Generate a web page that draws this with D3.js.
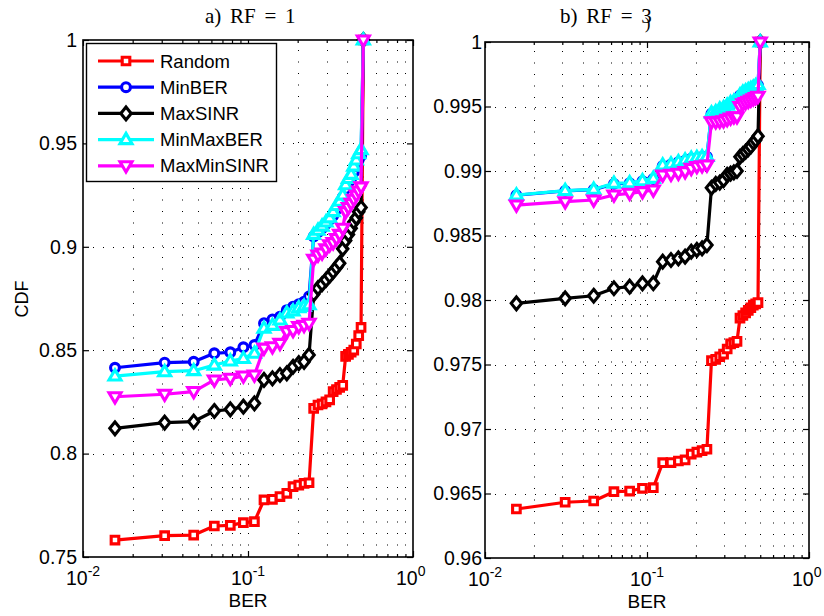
<!DOCTYPE html>
<html>
<head>
<meta charset="utf-8">
<script src="https://cdn.jsdelivr.net/npm/d3@7"></script>
<style>
  body { margin: 0; background: #fff; }
  text { font-family: Arial, "Liberation Sans", Helvetica, sans-serif; }
</style>
</head>
<body>
<div id="chart"></div>
<script>
// BER values (k/64) shared by every curve
var ber = [0.015625, 0.03125, 0.046875, 0.0625, 0.078125, 0.09375, 0.109375, 0.125,
  0.140625, 0.15625, 0.171875, 0.1875, 0.203125, 0.21875, 0.234375, 0.25,
  0.265625, 0.28125, 0.296875, 0.3125, 0.328125, 0.34375, 0.359375, 0.375,
  0.390625, 0.40625, 0.421875, 0.4375, 0.453125, 0.46875, 0.484375, 0.5];

var names = ["Random", "MinBER", "MaxSINR", "MinMaxBER", "MaxMinSINR"];

// a) RF = 1
var randomA = [0.7582, 0.7603, 0.7606, 0.7650, 0.7653, 0.7666, 0.7671, 0.7776, 0.7779, 0.7792, 0.7808, 0.7840, 0.7848, 0.7856, 0.7859,
  0.8219, 0.8235, 0.8240, 0.8250, 0.8260, 0.8300, 0.8310, 0.8320, 0.8330, 0.8470, 0.8480, 0.8490, 0.8500, 0.8530, 0.8570, 0.8610, 1.0];
var minBerA = [0.8415, 0.8440, 0.8444, 0.8485, 0.8490, 0.8514, 0.8525, 0.8630, 0.8649, 0.8662, 0.8694, 0.8710, 0.8723, 0.8734, 0.8760,
  0.9050, 0.9070, 0.9090, 0.9110, 0.9130, 0.9150, 0.9180, 0.9210, 0.9240, 0.9280, 0.9310, 0.9330, 0.9360, 0.9390, 0.9420, 0.9440, 1.0];
var maxSinrA = [0.8122, 0.8150, 0.8155, 0.8206, 0.8214, 0.8227, 0.8243, 0.8356, 0.8364, 0.8380, 0.8388, 0.8420, 0.8437, 0.8444, 0.8477,
  0.8770, 0.8800, 0.8820, 0.8840, 0.8860, 0.8880, 0.8900, 0.8920, 0.8990, 0.9030, 0.9060, 0.9090, 0.9120, 0.9140, 0.9170, 0.9190, 1.0];
var minMaxBerA = [0.8375, 0.8396, 0.8401, 0.8428, 0.8448, 0.8460, 0.8485, 0.8606, 0.8620, 0.8646, 0.8680, 0.8690, 0.8705, 0.8712, 0.8720,
  0.9060, 0.9080, 0.9100, 0.9120, 0.9140, 0.9170, 0.9200, 0.9220, 0.9250, 0.9300, 0.9330, 0.9350, 0.9390, 0.9420, 0.9450, 0.9470, 1.0];
var maxMinSinrA = [0.8275, 0.8287, 0.8300, 0.8356, 0.8364, 0.8375, 0.8380, 0.8510, 0.8517, 0.8533, 0.8590, 0.8595, 0.8614, 0.8620, 0.8630,
  0.8940, 0.8960, 0.8970, 0.8990, 0.9010, 0.9020, 0.9040, 0.9060, 0.9090, 0.9170, 0.9190, 0.9210, 0.9230, 0.9250, 0.9270, 0.9290, 1.0];

// b) RF = 3
var randomB = [0.96380, 0.96432, 0.96442, 0.96514, 0.96519, 0.96540, 0.96545, 0.96739, 0.96740, 0.96752, 0.96760, 0.96806, 0.96820, 0.96832, 0.96843,
  0.97530, 0.97540, 0.97560, 0.97580, 0.97620, 0.97660, 0.97670, 0.97680, 0.97860, 0.97880, 0.97900, 0.97920, 0.97940, 0.97960, 0.97970, 0.97980, 1.0];
var minBerB = [0.98812, 0.98846, 0.98855, 0.98900, 0.98905, 0.98920, 0.98938, 0.99040, 0.99050, 0.99068, 0.99080, 0.99095, 0.99100, 0.99108, 0.99110,
  0.99445, 0.99455, 0.99470, 0.99485, 0.99505, 0.99520, 0.99530, 0.99545, 0.99585, 0.99600, 0.99612, 0.99625, 0.99635, 0.99645, 0.99655, 0.99665, 1.0];
var maxSinrB = [0.97974, 0.98013, 0.98033, 0.98091, 0.98103, 0.98129, 0.98130, 0.98297, 0.98310, 0.98323, 0.98336, 0.98375, 0.98388, 0.98400, 0.98426,
  0.98870, 0.98900, 0.98910, 0.98930, 0.98970, 0.98980, 0.98990, 0.99000, 0.99110, 0.99130, 0.99150, 0.99170, 0.99190, 0.99220, 0.99240, 0.99270, 1.0];
var minMaxBerB = [0.98814, 0.98848, 0.98858, 0.98905, 0.98909, 0.98925, 0.98943, 0.99047, 0.99055, 0.99072, 0.99085, 0.99098, 0.99105, 0.99110, 0.99112,
  0.99450, 0.99460, 0.99480, 0.99490, 0.99510, 0.99530, 0.99540, 0.99550, 0.99590, 0.99610, 0.99620, 0.99630, 0.99640, 0.99650, 0.99660, 0.99670, 1.0];
var maxMinSinrB = [0.98736, 0.98762, 0.98775, 0.98814, 0.98827, 0.98840, 0.98853, 0.98969, 0.98975, 0.98982, 0.98995, 0.99020, 0.99034, 0.99040, 0.99047,
  0.99382, 0.99382, 0.99385, 0.99390, 0.99400, 0.99410, 0.99420, 0.99421, 0.99500, 0.99520, 0.99530, 0.99540, 0.99550, 0.99560, 0.99570, 0.99580, 1.0];

var yTicksA = [0.75, 0.8, 0.85, 0.9, 0.95, 1];
var yTicksB = [0.96, 0.965, 0.97, 0.975, 0.98, 0.985, 0.99, 0.995, 1];
var xMajor = [0.01, 0.1, 1];
var xExp = ["-2", "-1", "0"];

var colors = ["#ff0000", "#0000ff", "#000000", "#00ffff", "#ff00ff"];
var markers = ["square", "circle", "diamond", "up", "down"];

var width = 824, height = 616;
var serif = "font-family:'Liberation Serif','DejaVu Serif',serif";

var svg = d3.select("#chart").append("svg")
  .attr("width", width)
  .attr("height", height);

// marker shapes
function markerPath(type) {
  if (type == "square") return "M-3.8,-3.8h7.6v7.6h-7.6Z";
  if (type == "diamond") return "M0,-6.4L5.2,0L0,6.4L-5.2,0Z";
  if (type == "up") return "M0,-6.2L6,4L-6,4Z";
  if (type == "down") return "M0,6.2L6,-4L-6,-4Z";
  return null;
}

function addMarker(sel, type, color) {
  if (type == "circle") {
    return sel.append("circle").attr("r", 4.4)
      .attr("fill", "#fff").attr("stroke", color).attr("stroke-width", 3.1);
  }
  return sel.append("path").attr("d", markerPath(type))
    .attr("fill", "#fff").attr("stroke", color).attr("stroke-width", 3.1)
    .attr("stroke-linejoin", "miter");
}

function minorTicks() {
  var t = [];
  [0.01, 0.1].forEach(function(d) {
    for (var i = 2; i <= 9; i++) t.push(d * i);
  });
  return t;
}

function drawPanel(opt) {
  var x = d3.scaleLog().domain([0.01, 1]).range([opt.left, opt.right]);
  var y = d3.scaleLinear().domain(opt.yDomain).range([opt.bottom, opt.top]);
  var g = svg.append("g");

  // dotted grid
  var grid = g.append("g").attr("stroke", "#000").attr("stroke-width", 1);
  grid.selectAll(".vg")
    .data(minorTicks().concat([0.1]))
    .enter().append("line")
    .attr("x1", function(d) { return Math.round(x(d)) + 0.5; })
    .attr("x2", function(d) { return Math.round(x(d)) + 0.5; })
    .attr("y1", opt.bottom).attr("y2", opt.top)
    .attr("stroke-dasharray", "1,10.5");
  grid.selectAll(".hg")
    .data(opt.yTicks.slice(1, -1))
    .enter().append("line")
    .attr("y1", function(d) { return Math.round(y(d)) + 0.5; })
    .attr("y2", function(d) { return Math.round(y(d)) + 0.5; })
    .attr("x1", opt.left).attr("x2", opt.right)
    .attr("stroke-dasharray", "1,9");

  // axes (ticks inward)
  var fmt = function(d) { return String(+d.toFixed(3)); };
  var axes = g.append("g");
  axes.append("g").attr("transform", "translate(0," + opt.bottom + ")")
    .call(d3.axisBottom(x).tickValues(xMajor).tickSize(-6).tickFormat(""));
  axes.append("g").attr("transform", "translate(0," + opt.bottom + ")")
    .call(d3.axisBottom(x).tickValues(minorTicks()).tickSize(-3).tickFormat(""));
  axes.append("g").attr("transform", "translate(0," + opt.top + ")")
    .call(d3.axisTop(x).tickValues(xMajor).tickSize(-6).tickFormat(""));
  axes.append("g").attr("transform", "translate(0," + opt.top + ")")
    .call(d3.axisTop(x).tickValues(minorTicks()).tickSize(-3).tickFormat(""));
  axes.append("g").attr("class", "yl").attr("transform", "translate(" + opt.left + ",0)")
    .call(d3.axisLeft(y).tickValues(opt.yTicks).tickSize(-6).tickPadding(opt.pad).tickFormat(fmt));
  axes.append("g").attr("transform", "translate(" + opt.right + ",0)")
    .call(d3.axisRight(y).tickValues(opt.yTicks).tickSize(-6).tickFormat(""));
  axes.selectAll(".domain").remove();
  axes.selectAll(".tick line").attr("stroke", "#000").attr("stroke-width", 1.2);
  axes.selectAll(".yl text").attr("font-size", 19.5).attr("fill", "#000")
    .attr("font-family", "Arial, 'Liberation Sans', sans-serif");

  g.append("rect")
    .attr("x", opt.left).attr("y", opt.top)
    .attr("width", opt.right - opt.left).attr("height", opt.bottom - opt.top)
    .attr("fill", "none").attr("stroke", "#000").attr("stroke-width", 1.6);

  // x tick labels 10^n
  var xl = g.append("g");
  xMajor.forEach(function(d, i) {
    var t = xl.append("text")
      .attr("x", x(d) - 17).attr("y", opt.bottom + 28)
      .attr("font-size", 19.5);
    t.append("tspan").text("10");
    t.append("tspan").attr("dy", -9).attr("font-size", 14).text(xExp[i]);
  });

  // axis label
  g.append("text")
    .attr("x", (opt.left + opt.right) / 2).attr("y", opt.bottom + 50)
    .attr("text-anchor", "middle").attr("font-size", 19)
    .text("BER");

  // title
  var title = g.append("text")
    .attr("x", opt.titleX).attr("y", 23)
    .attr("style", serif + ";word-spacing:3.5px")
    .attr("font-size", 21)
    .text(opt.title);
  // stray parenthesis overlapping the last character (as in the source figure)
  if (opt.titleTail) {
    title.append("tspan")
      .attr("dx", -7).attr("dy", 6).attr("font-size", 17)
      .text(opt.titleTail);
  }

  // curves
  opt.series.forEach(function(vals, si) {
    var pts = ber.map(function(b, i) { return [x(b), y(vals[i])]; });
    var sg = g.append("g");
    sg.append("path")
      .attr("d", d3.line()(pts))
      .attr("fill", "none")
      .attr("stroke", colors[si])
      .attr("stroke-width", 3.2)
      .attr("stroke-linejoin", "round");
    pts.forEach(function(p) {
      addMarker(sg.append("g").attr("transform", "translate(" + p[0] + "," + p[1] + ")"), markers[si], colors[si]);
    });
  });
  return g;
}

drawPanel({
  left: 83, right: 413, top: 40, bottom: 557,
  yDomain: [0.75, 1], yTicks: yTicksA, pad: 6,
  title: "a) RF = 1", titleX: 205,
  series: [randomA, minBerA, maxSinrA, minMaxBerA, maxMinSinrA]
});

drawPanel({
  left: 485, right: 809, top: 42, bottom: 558,
  yDomain: [0.96, 1], yTicks: yTicksB, pad: 3,
  title: "b) RF = 3", titleTail: ")", titleX: 560,
  series: [randomB, minBerB, maxSinrB, minMaxBerB, maxMinSinrB]
});

// y label
svg.append("text")
  .attr("transform", "translate(28,299) rotate(-90)")
  .attr("text-anchor", "middle")
  .attr("font-size", 18)
  .text("CDF");

// legend
var legend = svg.append("g");
legend.append("rect")
  .attr("x", 86.5).attr("y", 43.5).attr("width", 190).attr("height", 138)
  .attr("fill", "#fff").attr("stroke", "#000").attr("stroke-width", 1.4);

names.forEach(function(n, i) {
  var cy = 61 + i * 26.2;
  var row = legend.append("g");
  row.append("line")
    .attr("x1", 98).attr("x2", 154).attr("y1", cy).attr("y2", cy)
    .attr("stroke", colors[i]).attr("stroke-width", 3.2);
  addMarker(row.append("g").attr("transform", "translate(126," + cy + ")"), markers[i], colors[i]);
  row.append("text")
    .attr("x", 160).attr("y", cy + 6.5)
    .attr("font-size", 18.5)
    .text(n);
});
</script>
</body>
</html>
